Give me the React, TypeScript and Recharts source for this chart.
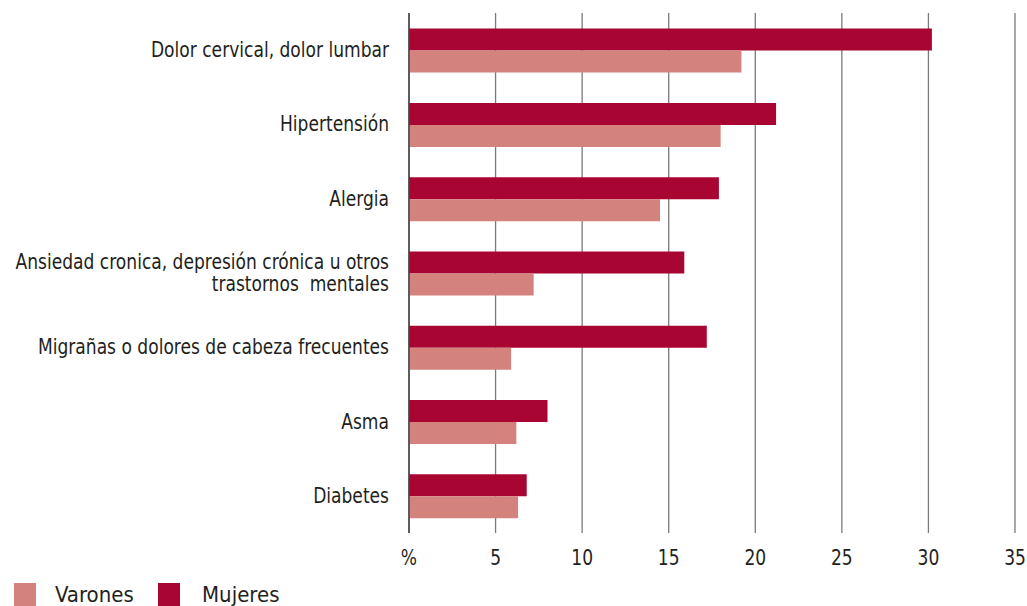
import React from 'react'
import { BarChart, Bar, XAxis, YAxis, CartesianGrid } from 'recharts'

const categories = [
  'Dolor cervical, dolor lumbar',
  'Hipertensión',
  'Alergia',
  'Ansiedad cronica, depresión crónica u otros\ntrastornos  mentales',
  'Migrañas o dolores de cabeza frecuentes',
  'Asma',
  'Diabetes',
]
const mujeres = [30.2, 21.2, 17.9, 15.9, 17.2, 8.0, 6.8]
const varones = [19.2, 18.0, 14.5, 7.2, 5.9, 6.2, 6.3]
const xTicks = [0, 5, 10, 15, 20, 25, 30, 35]

const data = categories.map((name, i) => ({
  name,
  mujeres: mujeres[i],
  varones: varones[i],
}))

const FONT = '"DejaVu Sans Condensed", "DejaVu Sans", sans-serif'
const TEXT = '#231f20'
const MUJERES = '#a80533'
const VARONES = '#d3827e'
const SQUEEZE = 0.905

function CategoryTick({ x, y, payload }: any) {
  const lines = String(payload.value).split('\n')
  const lh = 22
  return (
    <g transform={`translate(${x},${y}) scale(${SQUEEZE},1)`}>
      <text x={0} y={0} textAnchor="end" fill={TEXT} fontSize={21} fontFamily={FONT}>
        {lines.map((l, i) => (
          <tspan
            key={i}
            x={0}
            dy={i === 0 ? 7 - ((lines.length - 1) * lh) / 2 : lh}
            style={{ whiteSpace: 'pre' }}
          >
            {l}
          </tspan>
        ))}
      </text>
    </g>
  )
}

function ValueTick({ x, y, payload }: any) {
  const label = payload.value === 0 ? '%' : String(payload.value)
  return (
    <g transform={`translate(${x},${y}) scale(${SQUEEZE},1)`}>
      <text x={0} y={0} dy="0.71em" textAnchor="middle" fill={TEXT} fontSize={21} fontFamily={FONT}>
        {label}
      </text>
    </g>
  )
}

function LegendBox() {
  const items = [
    { label: 'Varones', color: VARONES },
    { label: 'Mujeres', color: MUJERES },
  ]
  return (
    <div
      style={{
        position: 'absolute',
        left: 14,
        top: 583,
        display: 'flex',
        alignItems: 'center',
        fontFamily: FONT,
        fontSize: 22,
        color: TEXT,
        lineHeight: '23px',
      }}
    >
      {items.map((it) => (
        <div key={it.label} style={{ display: 'flex', alignItems: 'center', width: it.label === 'Varones' ? 144 : 130 }}>
          <span
            style={{
              width: 22,
              height: 23,
              background: it.color,
              display: 'inline-block',
              marginRight: it.label === 'Varones' ? 19 : 22,
            }}
          />
          <span>{it.label}</span>
        </div>
      ))}
    </div>
  )
}

export default function App() {
  return (
    <div style={{ position: 'absolute', left: 0, top: 0, width: 1027, height: 606, background: '#fff', overflow: 'hidden' }}>
      <BarChart
        width={1027}
        height={606}
        data={data}
        layout="vertical"
        margin={{ top: 13, right: 12, left: 0, bottom: 43 }}
        barCategoryGap="21%"
        barGap={0}
      >
        <CartesianGrid horizontal={false} stroke="#7a7a7a" strokeWidth={1.3} />
        <XAxis
          type="number"
          domain={[0, 35]}
          ticks={xTicks}
          axisLine={false}
          tickLine={false}
          tickSize={0}
          tickMargin={17}
          height={30}
          tick={<ValueTick />}
          interval={0}
        />
        <YAxis
          type="category"
          dataKey="name"
          width={409}
          axisLine={{ stroke: '#444', strokeWidth: 1.5 }}
          tickLine={false}
          tickSize={0}
          tickMargin={20}
          tick={<CategoryTick />}
          interval={0}
        />
        <Bar dataKey="mujeres" name="Mujeres" fill={MUJERES} isAnimationActive={false} />
        <Bar dataKey="varones" name="Varones" fill={VARONES} isAnimationActive={false} />
      </BarChart>
      <LegendBox />
    </div>
  )
}
